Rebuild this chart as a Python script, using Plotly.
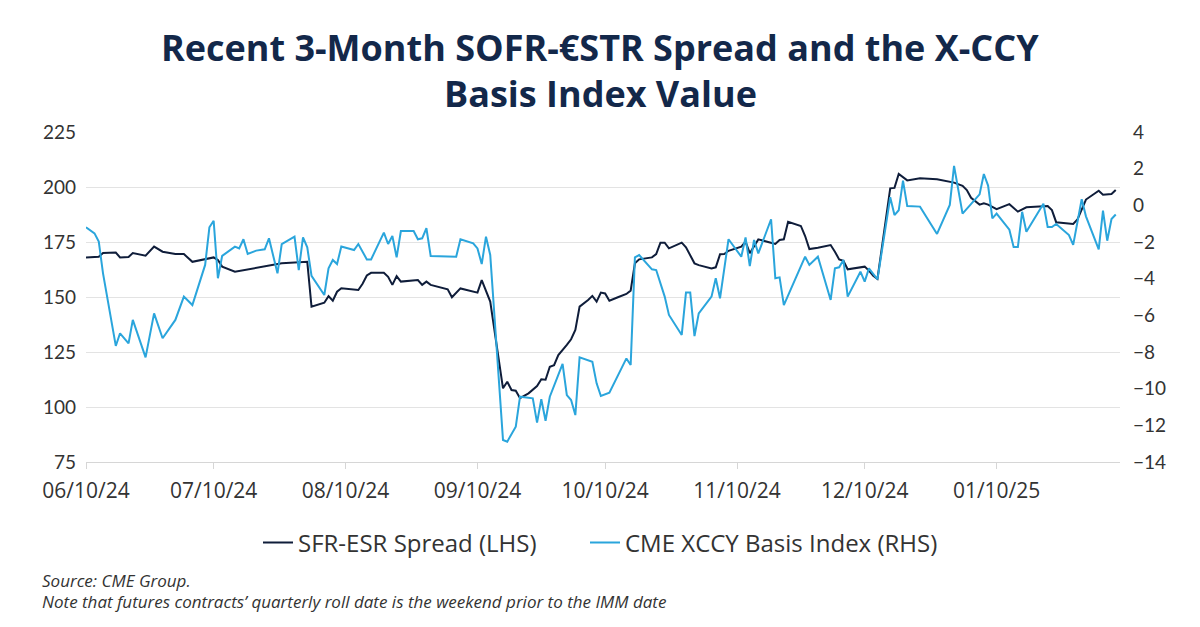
import plotly.graph_objects as go

# ---- data ----
spread_dates = [
    "2024-06-10", "2024-06-13", "2024-06-14", "2024-06-17", "2024-06-18", "2024-06-20",
    "2024-06-21", "2024-06-24", "2024-06-26", "2024-06-28", "2024-07-01", "2024-07-03",
    "2024-07-05", "2024-07-08", "2024-07-10", "2024-07-11", "2024-07-12", "2024-07-15",
    "2024-07-18", "2024-07-22", "2024-07-25", "2024-07-26", "2024-08-01", "2024-08-02",
    "2024-08-05", "2024-08-06", "2024-08-07", "2024-08-08", "2024-08-09", "2024-08-13",
    "2024-08-14", "2024-08-15", "2024-08-16", "2024-08-19", "2024-08-20", "2024-08-21",
    "2024-08-22", "2024-08-23", "2024-08-27", "2024-08-28", "2024-08-29", "2024-08-30",
    "2024-09-03", "2024-09-04", "2024-09-06", "2024-09-10", "2024-09-11", "2024-09-12",
    "2024-09-13", "2024-09-16", "2024-09-17", "2024-09-18", "2024-09-19", "2024-09-20",
    "2024-09-22", "2024-09-24", "2024-09-25", "2024-09-26", "2024-09-27", "2024-09-28",
    "2024-09-29", "2024-10-01", "2024-10-02", "2024-10-03", "2024-10-04", "2024-10-06",
    "2024-10-07", "2024-10-08", "2024-10-09", "2024-10-10", "2024-10-11", "2024-10-13",
    "2024-10-15", "2024-10-16", "2024-10-17", "2024-10-18", "2024-10-21", "2024-10-22",
    "2024-10-23", "2024-10-24", "2024-10-25", "2024-10-28", "2024-10-29", "2024-10-31",
    "2024-11-01", "2024-11-04", "2024-11-05", "2024-11-06", "2024-11-07", "2024-11-08",
    "2024-11-11", "2024-11-12", "2024-11-13", "2024-11-15", "2024-11-19", "2024-11-20",
    "2024-11-21", "2024-11-22", "2024-11-25", "2024-11-26", "2024-11-27", "2024-11-29",
    "2024-12-02", "2024-12-03", "2024-12-04", "2024-12-05", "2024-12-06", "2024-12-10",
    "2024-12-11", "2024-12-12", "2024-12-13", "2024-12-16", "2024-12-17", "2024-12-18",
    "2024-12-20", "2024-12-23", "2024-12-27", "2024-12-31", "2025-01-02", "2025-01-03",
    "2025-01-04", "2025-01-06", "2025-01-07", "2025-01-08", "2025-01-10", "2025-01-13",
    "2025-01-15", "2025-01-17", "2025-01-22", "2025-01-23", "2025-01-24", "2025-01-28",
    "2025-01-29", "2025-01-31", "2025-02-03", "2025-02-04", "2025-02-06", "2025-02-07",
]
spread_values = [
    168.0, 168.3, 170.0, 170.2, 168.0, 168.2,
    170.0, 168.8, 172.9, 170.6, 169.5, 169.5,
    166.0, 167.1, 168.0, 166.8, 163.8, 161.5,
    162.6, 163.8, 165.0, 165.3, 166.0, 145.6,
    147.4, 150.4, 148.3, 152.4, 154.0, 153.2,
    156.0, 159.8, 161.0, 161.0, 159.2, 155.5,
    159.5, 157.0, 157.7, 155.5, 157.0, 155.5,
    153.5, 149.9, 153.9, 152.0, 157.7, 152.4,
    147.9, 108.5, 111.5, 107.7, 107.4, 104.0,
    106.2, 109.5, 112.6, 112.4, 118.3, 119.0,
    123.6, 128.2, 130.8, 135.0, 145.6, 148.6,
    150.5, 147.9, 152.0, 151.6, 148.3, 149.9,
    151.4, 152.9, 165.3, 167.1, 168.0, 169.5,
    174.7, 174.7, 172.1, 174.7, 172.6, 165.3,
    164.5, 163.0, 163.5, 169.4, 169.5, 171.0,
    172.9, 175.1, 169.9, 176.2, 174.1, 175.9,
    176.2, 184.2, 182.3, 177.7, 171.8, 172.4,
    173.6, 170.6, 167.1, 166.4, 162.6, 163.8,
    162.0, 159.7, 158.2, 199.4, 199.6, 205.9,
    203.0, 204.0, 203.5, 202.0, 200.5, 198.6,
    195.1, 192.0, 192.6, 192.0, 189.9, 192.2,
    188.8, 190.8, 191.4, 189.5, 184.0, 183.2,
    185.2, 194.3, 198.3, 196.5, 196.8, 198.6,
]

basis_dates = [
    "2024-06-10", "2024-06-12", "2024-06-13", "2024-06-14", "2024-06-17", "2024-06-18",
    "2024-06-20", "2024-06-21", "2024-06-24", "2024-06-26", "2024-06-28", "2024-07-01",
    "2024-07-03", "2024-07-05", "2024-07-08", "2024-07-09", "2024-07-10", "2024-07-11",
    "2024-07-12", "2024-07-15", "2024-07-16", "2024-07-17", "2024-07-18", "2024-07-20",
    "2024-07-22", "2024-07-23", "2024-07-25", "2024-07-26", "2024-07-29", "2024-07-30",
    "2024-07-31", "2024-08-01", "2024-08-02", "2024-08-05", "2024-08-06", "2024-08-07",
    "2024-08-08", "2024-08-09", "2024-08-12", "2024-08-13", "2024-08-15", "2024-08-16",
    "2024-08-19", "2024-08-20", "2024-08-21", "2024-08-22", "2024-08-23", "2024-08-26",
    "2024-08-27", "2024-08-28", "2024-08-29", "2024-08-30", "2024-09-05", "2024-09-06",
    "2024-09-09", "2024-09-10", "2024-09-11", "2024-09-12", "2024-09-13", "2024-09-16",
    "2024-09-17", "2024-09-19", "2024-09-20", "2024-09-23", "2024-09-24", "2024-09-25",
    "2024-09-26", "2024-09-27", "2024-09-30", "2024-10-01", "2024-10-02", "2024-10-03",
    "2024-10-04", "2024-10-07", "2024-10-08", "2024-10-09", "2024-10-11", "2024-10-15",
    "2024-10-16", "2024-10-17", "2024-10-18", "2024-10-21", "2024-10-22", "2024-10-24",
    "2024-10-25", "2024-10-28", "2024-10-29", "2024-10-30", "2024-10-31", "2024-11-01",
    "2024-11-04", "2024-11-05", "2024-11-06", "2024-11-08", "2024-11-11", "2024-11-12",
    "2024-11-13", "2024-11-14", "2024-11-15", "2024-11-18", "2024-11-19", "2024-11-20",
    "2024-11-21", "2024-11-26", "2024-11-27", "2024-11-29", "2024-12-02", "2024-12-03",
    "2024-12-04", "2024-12-05", "2024-12-06", "2024-12-09", "2024-12-10", "2024-12-11",
    "2024-12-13", "2024-12-16", "2024-12-17", "2024-12-18", "2024-12-19", "2024-12-20",
    "2024-12-23", "2024-12-27", "2024-12-30", "2024-12-31", "2025-01-02", "2025-01-06",
    "2025-01-07", "2025-01-08", "2025-01-09", "2025-01-10", "2025-01-13", "2025-01-14",
    "2025-01-15", "2025-01-16", "2025-01-17", "2025-01-21", "2025-01-22", "2025-01-23",
    "2025-01-24", "2025-01-27", "2025-01-28", "2025-01-30", "2025-01-31", "2025-02-03",
    "2025-02-04", "2025-02-05", "2025-02-06", "2025-02-07",
]
basis_values = [
    -1.20, -1.53, -1.98, -3.71, -7.67, -6.98,
    -7.53, -6.25, -8.29, -5.89, -7.25, -6.25,
    -4.98, -5.44, -3.25, -1.20, -0.84, -3.98,
    -2.76, -2.25, -2.35, -1.85, -2.65, -2.47,
    -2.40, -1.80, -3.71, -2.11, -1.71, -3.53,
    -1.75, -2.29, -3.85, -4.89, -3.44, -2.98,
    -3.20, -2.25, -2.44, -2.11, -2.95, -2.95,
    -1.49, -2.11, -1.67, -2.84, -1.40, -1.40,
    -1.85, -1.80, -1.25, -2.76, -2.80, -1.85,
    -2.07, -2.35, -3.20, -1.71, -2.71, -12.80,
    -12.89, -12.07, -10.44, -10.53, -11.85, -10.58,
    -11.75, -10.44, -8.65, -10.35, -10.62, -11.44,
    -8.29, -8.53, -9.71, -10.40, -10.22, -8.35,
    -8.71, -2.84, -2.71, -3.49, -3.53, -4.98,
    -5.98, -7.07, -4.76, -4.76, -7.13, -5.89,
    -4.98, -3.98, -5.07, -1.85, -2.80, -1.75,
    -3.31, -1.89, -2.62, -0.76, -3.98, -3.93,
    -5.44, -2.80, -3.25, -2.80, -5.16, -3.44,
    -3.38, -2.98, -4.98, -3.62, -4.16, -3.44,
    -4.04, 0.44, -0.53, -0.27, 1.35, -0.04,
    -0.07, -1.56, 0.02, 2.15, -0.45, 0.60,
    1.71, 1.08, -0.71, -0.45, -1.33, -2.27,
    -2.27, -0.35, -1.44, 0.09, -1.18, -1.18,
    -1.02, -1.62, -2.16, 0.33, -0.60, -2.40,
    -0.29, -1.93, -0.75, -0.50,
]

x_tick_dates = ["2024-06-10", "2024-07-10", "2024-08-10", "2024-09-10", "2024-10-10",
                "2024-11-10", "2024-12-10", "2025-01-10"]

title_line1 = "Recent 3-Month SOFR-€STR Spread and the X-CCY"
title_line2 = "Basis Index Value"
source_note = "Source: CME Group."
roll_note = "Note that futures contracts\u2019 quarterly roll date is the weekend prior to the IMM date"

NAVY = "#0f1d3a"
BLUE = "#2aa5dc"
TEXT = "#333333"
GRID = "#e3e3e3"
TITLE = "#13284a"

# The page body adds an 8px offset; plot area should land at x 86..1120, y 132..462
L, T, R, B = 78, 124, 88, 173
PLOT_H = 330
PLOT_W = 1034


def py(screen_y):
    return (462 - screen_y) / PLOT_H


def px(screen_x):
    return (screen_x - 86) / PLOT_W


fig = go.Figure()
fig.add_trace(go.Scatter(
    x=spread_dates, y=spread_values, name="SFR-ESR Spread (LHS)",
    mode="lines", line=dict(color=NAVY, width=2), yaxis="y", legend="legend",
))
fig.add_trace(go.Scatter(
    x=basis_dates, y=basis_values, name="CME XCCY Basis Index (RHS)",
    mode="lines", line=dict(color=BLUE, width=2), yaxis="y2", legend="legend2",
))

legend_font = dict(size=24, color=TEXT, family="Open Sans, sans-serif")

fig.update_layout(
    width=1200, height=627,
    paper_bgcolor="white", plot_bgcolor="white",
    margin=dict(l=L, r=R, t=T, b=B),
    font=dict(family="Open Sans, sans-serif", color=TEXT),
    showlegend=True,
    legend=dict(
        orientation="h", x=px(258), xanchor="left", y=py(543), yanchor="middle",
        font=legend_font,
    ),
    legend2=dict(
        orientation="h", x=px(585), xanchor="left", y=py(543), yanchor="middle",
        font=legend_font,
    ),
    xaxis=dict(
        type="date",
        range=["2024-06-10", "2025-02-08"],
        tickvals=x_tick_dates,
        tickformat="%m/%d/%y",
        showgrid=False,
        showline=True, linecolor="#d6d6d6", linewidth=1,
        ticks="outside", ticklen=6, tickcolor="#d6d6d6",
        tickfont=dict(size=21, color=TEXT, family="Open Sans, sans-serif"),
        ticklabelstandoff=4,
        zeroline=False,
    ),
    yaxis=dict(
        range=[75, 225], tick0=75, dtick=25,
        showgrid=True, gridcolor=GRID, gridwidth=1,
        zeroline=False, showline=False, ticks="",
        tickfont=dict(size=19, color=TEXT, family="Lato, sans-serif"),
        ticklabelstandoff=9,
    ),
    yaxis2=dict(
        range=[-14, 4], tick0=-14, dtick=2,
        overlaying="y", side="right",
        showgrid=False, zeroline=False, showline=False, ticks="",
        tickfont=dict(size=19, color=TEXT, family="Lato, sans-serif"),
        ticklabelstandoff=12,
    ),
    annotations=[
        dict(text=f"<b>{title_line1}</b>", xref="paper", yref="paper",
             x=px(600), y=py(47), xanchor="center", yanchor="middle",
             showarrow=False, font=dict(size=36, color=TITLE, family="Open Sans, sans-serif")),
        dict(text=f"<b>{title_line2}</b>", xref="paper", yref="paper",
             x=px(600), y=py(93), xanchor="center", yanchor="middle",
             showarrow=False, font=dict(size=36, color=TITLE, family="Open Sans, sans-serif")),
        dict(text=f"<i>{source_note}</i>", xref="paper", yref="paper",
             x=px(40), y=py(580), xanchor="left", yanchor="middle",
             showarrow=False, font=dict(size=17, color=TEXT, family="Open Sans, sans-serif")),
        dict(text=f"<i>{roll_note}</i>", xref="paper", yref="paper",
             x=px(40), y=py(601), xanchor="left", yanchor="middle",
             showarrow=False, font=dict(size=17, color=TEXT, family="Open Sans, sans-serif")),
    ],
)

fig.write_html("out.html")
